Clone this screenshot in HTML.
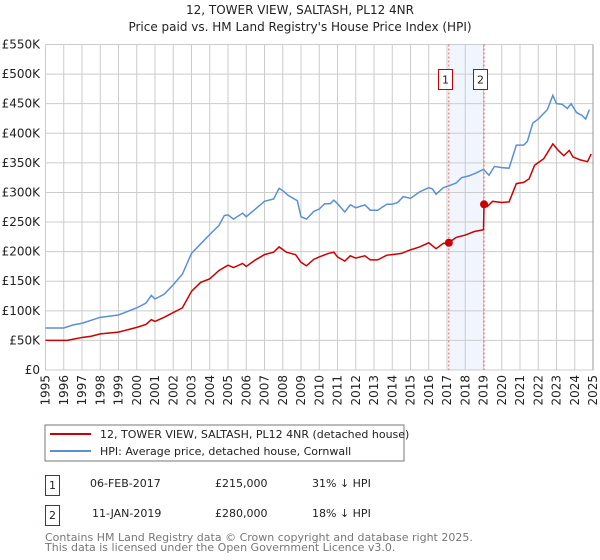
<!DOCTYPE html>
<html><head><meta charset="utf-8"><style>
body{margin:0;background:#fff;font-family:"DejaVu Sans","Liberation Sans",sans-serif;}
#wrap{position:relative;width:600px;height:560px;overflow:hidden;}
svg text{font-family:"DejaVu Sans","Liberation Sans",sans-serif;}
</style></head><body><div id="wrap">
<svg id="chart" width="600" height="560" xmlns="http://www.w3.org/2000/svg">
<text x="300" y="14" text-anchor="middle" font-size="12" fill="#222">12, TOWER VIEW, SALTASH, PL12 4NR</text>
<text x="300" y="31" text-anchor="middle" font-size="12" fill="#222">Price paid vs. HM Land Registry's House Price Index (HPI)</text>
<g id="grid"></g><g id="marks"></g>
<rect x="45" y="425" width="359" height="36" fill="#fff" stroke="#777" stroke-width="1"/>
<line x1="50" y1="434" x2="91" y2="434" stroke="#cc0000" stroke-width="2"/>
<text x="100" y="438" font-size="11" fill="#222">12, TOWER VIEW, SALTASH, PL12 4NR (detached house)</text>
<line x1="50" y1="451" x2="91" y2="451" stroke="#5b8fd6" stroke-width="2"/>
<text x="100" y="455" font-size="11" fill="#222">HPI: Average price, detached house, Cornwall</text>
<rect x="45.5" y="475.5" width="14" height="20" fill="#fff" stroke="#cc0000"/>
<text x="52.5" y="489" text-anchor="middle" font-size="11" fill="#222">1</text>
<text x="90" y="487" font-size="11" fill="#222">06-FEB-2017</text>
<text x="215" y="487" font-size="11" fill="#222">£215,000</text>
<text x="312" y="487" font-size="11" fill="#222">31% ↓ HPI</text>
<rect x="45.5" y="505.5" width="14" height="20" fill="#fff" stroke="#cc0000"/>
<text x="52.5" y="519" text-anchor="middle" font-size="11" fill="#222">2</text>
<text x="92" y="517" font-size="11" fill="#222">11-JAN-2019</text>
<text x="215" y="517" font-size="11" fill="#222">£280,000</text>
<text x="312" y="517" font-size="11" fill="#222">18% ↓ HPI</text>
<text x="45" y="541" font-size="11" fill="#777">Contains HM Land Registry data © Crown copyright and database right 2025.</text>
<text x="45" y="551" font-size="11" fill="#777">This data is licensed under the Open Government Licence v3.0.</text>
</svg></div>
<script>
const hpiYears=[1995,1996,1996.5,1997,1998,1999,2000,2000.5,2000.8,2001,2001.5,2002,2002.5,2003,2003.5,2004,2004.5,2004.8,2005,2005.3,2005.8,2006,2006.5,2007,2007.5,2007.8,2008,2008.3,2008.8,2009,2009.3,2009.7,2010,2010.3,2010.6,2010.8,2011,2011.4,2011.7,2012,2012.5,2012.8,2013.2,2013.7,2014,2014.3,2014.6,2015,2015.5,2016,2016.2,2016.4,2016.8,2017.1,2017.5,2017.8,2018.2,2018.6,2019,2019.3,2019.6,2020,2020.4,2020.8,2021.2,2021.4,2021.7,2022,2022.5,2022.8,2023,2023.3,2023.6,2023.8,2024.1,2024.4,2024.6,2024.8];
const hpiValues=[71,71,76,79,89,93,105,113,126,120,128,144,162,197,213,229,244,261,262,255,265,259,272,285,289,307,303,295,286,259,255,268,272,281,281,287,281,267,279,274,279,270,270,280,280,283,293,290,301,308,306,297,308,311,316,325,328,333,339,329,344,342,341,380,380,386,417,424,440,464,450,449,442,450,435,430,424,440];
const ppYears=[1995,1996.2,1996.5,1997,1997.5,1998,1999,2000,2000.5,2000.8,2001,2001.5,2002,2002.5,2003,2003.5,2004,2004.5,2005,2005.3,2005.8,2006,2006.5,2007,2007.5,2007.8,2008.2,2008.7,2009,2009.3,2009.7,2010,2010.5,2010.8,2011,2011.4,2011.7,2012,2012.5,2012.8,2013.2,2013.7,2014,2014.5,2015,2015.5,2016,2016.4,2016.8,2017.1,2017.5,2018,2018.5,2019,2019.03,2019.2,2019.5,2020,2020.4,2020.8,2021.2,2021.5,2021.8,2022.3,2022.8,2023.1,2023.4,2023.7,2023.9,2024.3,2024.7,2024.9];
const ppValues=[50,50,52,55,57,61,64,72,77,85,82,89,97,105,133,148,154,168,177,173,180,175,186,195,199,208,199,195,182,176,187,191,197,199,191,184,193,189,193,186,186,194,195,197,203,208,215,205,214,215,224,228,234,237,280,276,285,283,284,315,317,323,346,357,382,371,362,371,360,355,352,365];
const saleYears=[2017.1,2019.03];
const saleValues=[215,280];
const saleLabels=["1","2"];
const yTicks=[0,50,100,150,200,250,300,350,400,450,500,550];
const yTickLabels=["£0","£50K","£100K","£150K","£200K","£250K","£300K","£350K","£400K","£450K","£500K","£550K"];
const xTicks=[1995,1996,1997,1998,1999,2000,2001,2002,2003,2004,2005,2006,2007,2008,2009,2010,2011,2012,2013,2014,2015,2016,2017,2018,2019,2020,2021,2022,2023,2024,2025];

const X0=45.5,X1=593,Y0=370,Y1=44.5;
const xs=y=>X0+(y-1995)/30*(X1-X0);
const ys=v=>Y0-v/550*(Y0-Y1);
const NS="http://www.w3.org/2000/svg";
const grid=document.getElementById('grid'),marks=document.getElementById('marks');
function mk(tag,attrs,parent){const e=document.createElementNS(NS,tag);for(const k in attrs)e.setAttribute(k,attrs[k]);parent.appendChild(e);return e;}
const band=mk('rect',{x:xs(saleYears[0]),y:Y1,width:xs(saleYears[1])-xs(saleYears[0]),height:Y0-Y1,fill:'#eef3fc',opacity:0.8},grid);


yTicks.forEach((v,i)=>{
 const l=mk('line',{x1:X0,x2:X1,y1:ys(v),y2:ys(v),stroke:'#cccccc','stroke-width':1},grid);
 
 
 const t=mk('text',{x:40,y:ys(v)+4,'text-anchor':'end','font-size':12,fill:'#222'},grid);
 t.textContent=yTickLabels[i];
 
 
});
xTicks.forEach(yr=>{
 const l=mk('line',{x1:xs(yr),x2:xs(yr),y1:Y1,y2:Y0,stroke:'#cccccc','stroke-width':1},grid);
 
 
 const t=mk('text',{x:0,y:0,'text-anchor':'end','font-size':12,fill:'#222',transform:`translate(${xs(yr)+4},${Y0+5}) rotate(-90)`},grid);
 t.textContent=yr;
 
 
});
const edge=mk('line',{x1:X1,x2:X1,y1:Y1,y2:Y0,stroke:'#999','stroke-width':1},grid);


saleYears.forEach((yr,i)=>{
 const l=mk('line',{x1:xs(yr),x2:xs(yr),y1:Y1,y2:Y0,stroke:'#e06060','stroke-width':1,'stroke-dasharray':'2,2'},marks);
 
 
 const r=mk('rect',{x:Math.round(xs(yr))-10.5,y:69.5,width:14,height:20,fill:'#fff',stroke:'#cc0000'},marks);
 
 
 const t=mk('text',{x:Math.round(xs(yr))-3.5,y:83.5,'text-anchor':'middle','font-size':11,fill:'#222'},marks);
 t.textContent=saleLabels[i];
 
 
});
const hp=mk('polyline',{points:hpiYears.map((y,i)=>xs(y)+','+ys(hpiValues[i])).join(' '),fill:'none',stroke:'#5b8fd6','stroke-width':1.5},marks);


const pp=mk('polyline',{points:ppYears.map((y,i)=>xs(y)+','+ys(ppValues[i])).join(' '),fill:'none',stroke:'#cc0000','stroke-width':1.5},marks);


saleYears.forEach((yr,i)=>{
 const c=mk('circle',{cx:xs(yr),cy:ys(saleValues[i]),r:4,fill:'#cc0000'},marks);
 
 
});
</script></body></html>
